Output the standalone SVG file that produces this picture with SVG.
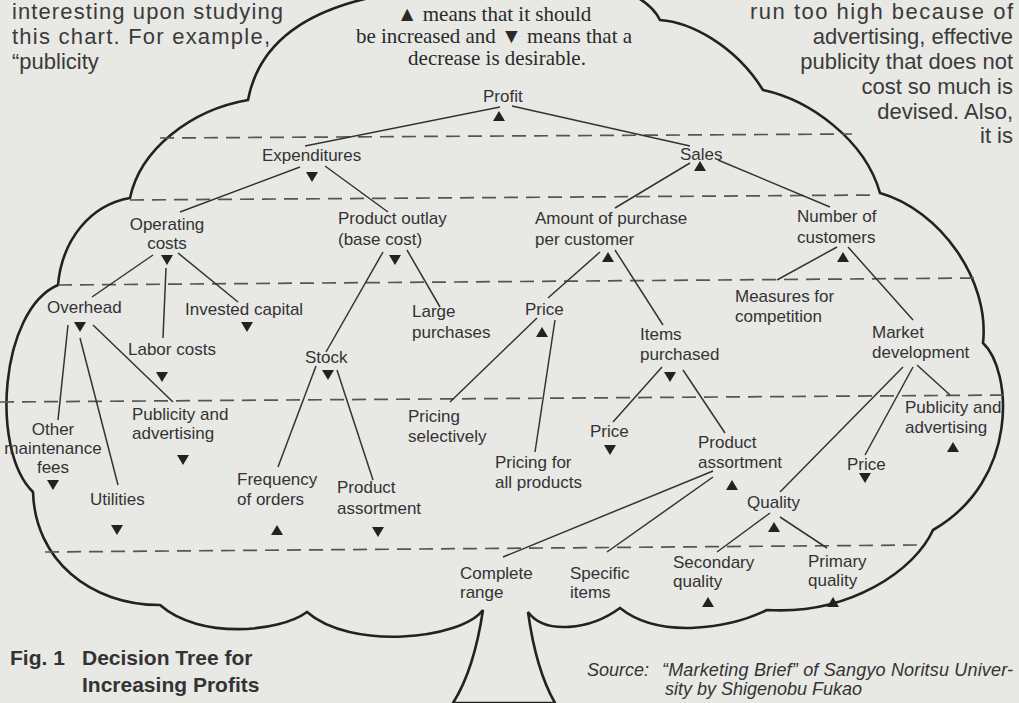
<svg xmlns="http://www.w3.org/2000/svg" width="1019" height="703" viewBox="0 0 1019 703">
<defs>
<style>
.n{font-family:"Liberation Sans",Arial,sans-serif;font-size:17px;fill:#333}
.nm{font-family:"Liberation Sans",Arial,sans-serif;font-size:17px;fill:#333;text-anchor:middle}
.p{font-family:"Liberation Sans",Arial,sans-serif;font-size:22px;fill:#3a3a3a}
.pr{font-family:"Liberation Sans",Arial,sans-serif;font-size:22px;fill:#3a3a3a;text-anchor:end}
.lg{font-family:"Liberation Serif","Times New Roman",serif;font-size:21px;fill:#2a2a2a;text-anchor:middle}
.cap{font-family:"Liberation Sans",Arial,sans-serif;font-size:21px;font-weight:bold;fill:#333}
.src{font-family:"Liberation Sans",Arial,sans-serif;font-size:18px;font-style:italic;fill:#333}
.c line{stroke:#333;stroke-width:1.5;fill:none}
.d line{stroke:#555;stroke-width:1.7;stroke-dasharray:14 8}
.cloud{fill:none;stroke:#222;stroke-width:2.6;stroke-linejoin:miter}
</style>
<path id="up" d="M0,-5 L6,5 L-6,5 Z"/>
<path id="dn" d="M-6,-5 L6,-5 L0,5 Z"/>
</defs>
<rect x="0" y="0" width="1019" height="703" fill="#e8e8e5"/>

<g id="paragraph-left">
<text class="p" x="12" y="19" textLength="271" lengthAdjust="spacing">interesting upon studying</text>
<text class="p" x="12" y="44" textLength="258" lengthAdjust="spacing">this chart. For example,</text>
<text class="p" x="12" y="69">“publicity</text>
</g>
<g id="paragraph-right">
<text class="p" x="750" y="19" textLength="263" lengthAdjust="spacing">run  too  high because of</text>
<text class="pr" x="1013" y="44">advertising, effective</text>
<text class="pr" x="1013" y="69">publicity that does not</text>
<text class="pr" x="1013" y="94">cost so much is</text>
<text class="pr" x="1013" y="119">devised. Also,</text>
<text class="pr" x="1013" y="143">it is</text>
</g>

<g id="cloud">
<path class="cloud" d="M248,100 Q266,5 420,-10 L620,-10 Q650,0 660,20 C690,22 735,45 763,90 C810,100 865,140 880,193 C940,210 990,280 983,343 C1012,370 1020,480 933,530 C915,570 850,615 767,610 C730,628 660,640 620,608 C590,630 545,635 528,612 Q536,670 555,703 L453,703 Q474,670 483,610 C460,640 350,650 307,612 C280,632 200,640 160,605 C90,605 35,560 33,492 C-10,450 0,310 58,285 C62,240 90,205 130,198 C140,150 190,110 248,100 Z"/>
</g>

<g id="legend">
<text class="lg" x="494" y="21">▲ means that it should</text>
<text class="lg" x="494" y="43">be increased and ▼ means that a</text>
<text class="lg" x="497" y="65">decrease is desirable.</text>
</g>

<g id="levels" class="d">
<line x1="160" y1="138" x2="852" y2="134"/>
<line x1="130" y1="200" x2="878" y2="195"/>
<line x1="58" y1="285" x2="980" y2="278"/>
<line x1="0" y1="402" x2="1008" y2="395"/>
<line x1="45" y1="552" x2="920" y2="545"/>
</g>

<g id="connectors" class="c">
<line x1="500" y1="107" x2="305" y2="146"/>
<line x1="512" y1="106" x2="690" y2="146"/>
<line x1="300" y1="167" x2="180" y2="212"/>
<line x1="325" y1="166" x2="388" y2="212"/>
<line x1="690" y1="163" x2="615" y2="208"/>
<line x1="718" y1="160" x2="830" y2="207"/>
<line x1="153" y1="255" x2="92" y2="297"/>
<line x1="166" y1="268" x2="163" y2="338"/>
<line x1="178" y1="253" x2="238" y2="302"/>
<line x1="383" y1="252" x2="326" y2="352"/>
<line x1="407" y1="250" x2="440" y2="307"/>
<line x1="600" y1="252" x2="548" y2="298"/>
<line x1="615" y1="250" x2="663" y2="325"/>
<line x1="837" y1="247" x2="777" y2="280"/>
<line x1="848" y1="247" x2="913" y2="320"/>
<line x1="68" y1="325" x2="58" y2="420"/>
<line x1="80" y1="338" x2="118" y2="485"/>
<line x1="93" y1="325" x2="173" y2="402"/>
<line x1="316" y1="366" x2="278" y2="467"/>
<line x1="337" y1="370" x2="373" y2="480"/>
<line x1="537" y1="318" x2="450" y2="402"/>
<line x1="555" y1="320" x2="535" y2="452"/>
<line x1="662" y1="367" x2="613" y2="422"/>
<line x1="683" y1="370" x2="725" y2="433"/>
<line x1="903" y1="367" x2="780" y2="492"/>
<line x1="913" y1="367" x2="865" y2="455"/>
<line x1="917" y1="365" x2="950" y2="395"/>
<line x1="713" y1="471" x2="503" y2="557"/>
<line x1="713" y1="477" x2="607" y2="552"/>
<line x1="770" y1="513" x2="717" y2="552"/>
<line x1="780" y1="517" x2="827" y2="548"/>
</g>

<g id="profit"><text class="n" x="483" y="102">Profit</text><use href="#up" x="499" y="116" fill="#222"/></g>
<g id="expenditures"><text class="n" x="262" y="161">Expenditures</text><use href="#dn" x="312" y="177" fill="#222"/></g>
<g id="sales"><text class="n" x="680" y="160">Sales</text><use href="#up" x="700" y="166" fill="#222"/></g>
<g id="operating-costs"><text class="nm" x="167" y="230">Operating</text><text class="nm" x="167" y="249">costs</text><use href="#dn" x="167" y="260" fill="#222"/></g>
<g id="product-outlay"><text class="n" x="338" y="224">Product outlay</text><text class="n" x="338" y="245">(base cost)</text><use href="#dn" x="395" y="260" fill="#222"/></g>
<g id="amount-per-customer"><text class="n" x="535" y="224">Amount of purchase</text><text class="n" x="535" y="245">per customer</text><use href="#up" x="608" y="257" fill="#222"/></g>
<g id="number-of-customers"><text class="n" x="797" y="222">Number of</text><text class="n" x="797" y="243">customers</text><use href="#up" x="843" y="257" fill="#222"/></g>
<g id="overhead"><text class="n" x="47" y="313">Overhead</text><use href="#dn" x="80" y="327" fill="#222"/></g>
<g id="invested-capital"><text class="n" x="185" y="315">Invested capital</text><use href="#dn" x="247" y="327" fill="#222"/></g>
<g id="large-purchases"><text class="n" x="412" y="317">Large</text><text class="n" x="412" y="338">purchases</text></g>
<g id="price-1"><text class="n" x="525" y="315">Price</text><use href="#up" x="542" y="332" fill="#222"/></g>
<g id="measures-for-competition"><text class="n" x="735" y="302">Measures for</text><text class="n" x="735" y="322">competition</text></g>
<g id="market-development"><text class="n" x="872" y="338">Market</text><text class="n" x="872" y="358">development</text></g>
<g id="labor-costs"><text class="n" x="128" y="355">Labor costs</text><use href="#dn" x="162" y="377" fill="#222"/></g>
<g id="stock"><text class="n" x="305" y="363">Stock</text><use href="#dn" x="328" y="375" fill="#222"/></g>
<g id="items-purchased"><text class="n" x="640" y="340">Items</text><text class="n" x="640" y="360">purchased</text><use href="#dn" x="670" y="377" fill="#222"/></g>
<g id="publicity-left"><text class="n" x="132" y="420">Publicity and</text><text class="n" x="132" y="439">advertising</text><use href="#dn" x="183" y="460" fill="#222"/></g>
<g id="other-maintenance"><text class="nm" x="53" y="435">Other</text><text class="nm" x="53" y="454">maintenance</text><text class="nm" x="53" y="473">fees</text><use href="#dn" x="53" y="485" fill="#222"/></g>
<g id="utilities"><text class="n" x="90" y="505">Utilities</text><use href="#dn" x="117" y="530" fill="#222"/></g>
<g id="frequency-of-orders"><text class="n" x="237" y="485">Frequency</text><text class="n" x="237" y="505">of orders</text><use href="#up" x="277" y="530" fill="#222"/></g>
<g id="product-assortment-left"><text class="n" x="337" y="493">Product</text><text class="n" x="337" y="514">assortment</text><use href="#dn" x="378" y="532" fill="#222"/></g>
<g id="pricing-selectively"><text class="n" x="408" y="422">Pricing</text><text class="n" x="408" y="442">selectively</text></g>
<g id="price-2"><text class="n" x="590" y="437">Price</text><use href="#dn" x="610" y="450" fill="#222"/></g>
<g id="pricing-all"><text class="n" x="495" y="468">Pricing for</text><text class="n" x="495" y="488">all products</text></g>
<g id="publicity-right"><text class="n" x="905" y="413">Publicity and</text><text class="n" x="905" y="433">advertising</text><use href="#up" x="953" y="447" fill="#222"/></g>
<g id="product-assortment-right"><text class="n" x="698" y="448">Product</text><text class="n" x="698" y="468">assortment</text><use href="#up" x="732" y="485" fill="#222"/></g>
<g id="price-3"><text class="n" x="847" y="470">Price</text><use href="#dn" x="865" y="478" fill="#222"/></g>
<g id="quality"><text class="n" x="747" y="508">Quality</text><use href="#up" x="774" y="527" fill="#222"/></g>
<g id="complete-range"><text class="n" x="460" y="579">Complete</text><text class="n" x="460" y="598">range</text></g>
<g id="specific-items"><text class="n" x="570" y="579">Specific</text><text class="n" x="570" y="598">items</text></g>
<g id="secondary-quality"><text class="n" x="673" y="568">Secondary</text><text class="n" x="673" y="587">quality</text><use href="#up" x="708" y="602" fill="#222"/></g>
<g id="primary-quality"><text class="n" x="808" y="567">Primary</text><text class="n" x="808" y="586">quality</text><use href="#up" x="833" y="602" fill="#222"/></g>

<g id="caption">
<text class="cap" x="10" y="665">Fig. 1 <tspan x="82">Decision Tree for</tspan></text>
<text class="cap" x="82" y="692">Increasing Profits</text>
</g>
<g id="source">
<text class="src" x="587" y="676">Source:</text>
<text class="src" x="662" y="676" textLength="351" lengthAdjust="spacing">“Marketing Brief” of Sangyo Noritsu Univer-</text>
<text class="src" x="665" y="695">sity by Shigenobu Fukao</text>
</g>
</svg>
